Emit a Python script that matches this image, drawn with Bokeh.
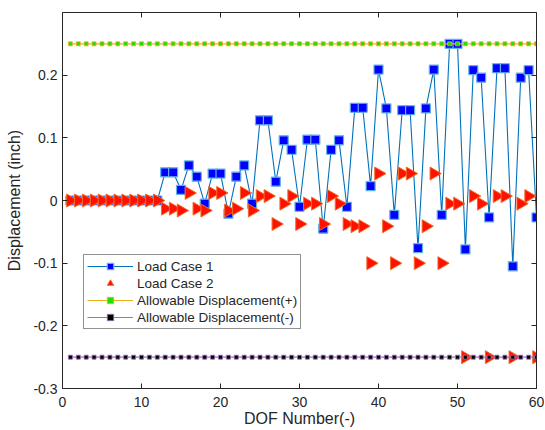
import math
from bokeh.plotting import figure
from bokeh.models import Range1d, LinearAxis, FixedTicker, CustomJSTickFormatter
from bokeh.embed import file_html
from bokeh.resources import INLINE

# ---- data ----
dof = list(range(1, 61))

load_case_1 = [0, 0, 0, 0, 0, 0, 0, 0, 0, 0, 0, 0,
               0.045, 0.045, 0.017, 0.056, 0.038, -0.005, 0.043, 0.043,
               -0.021, 0.038, 0.056, -0.005, 0.128, 0.128, 0.030, 0.096,
               0.081, -0.010, 0.097, 0.097, -0.045, 0.081, 0.096, -0.010,
               0.148, 0.148, 0.023, 0.209, 0.147, -0.023, 0.144, 0.144,
               -0.076, 0.147, 0.209, -0.023, 0.250, 0.250, -0.078, 0.208,
               0.196, -0.027, 0.211, 0.211, -0.105, 0.196, 0.208, -0.027]

load_case_2 = [0, 0, 0, 0, 0, 0, 0, 0, 0, 0, 0, 0,
               -0.013, -0.013, -0.016, 0.012, -0.013, -0.016, 0.012, 0.012,
               -0.016, -0.013, 0.012, -0.016, 0.007, 0.007, -0.0375, -0.005,
               0.007, -0.0375, -0.005, -0.005, -0.0375, 0.007, -0.005, -0.0375,
               -0.041, -0.041, -0.100, 0.043, -0.041, -0.100, 0.043, 0.043,
               -0.100, -0.041, 0.043, -0.100, -0.005, -0.005, -0.250, 0.007,
               -0.005, -0.250, 0.007, 0.007, -0.250, -0.005, 0.007, -0.250]

allow_pos = [0.25] * 60
allow_neg = [-0.25] * 60

x_ticks = [0, 10, 20, 30, 40, 50, 60]
y_ticks = [-0.3, -0.2, -0.1, 0, 0.1, 0.2]
y_tick_labels = {-0.3: "-0.3", -0.2: "-0.2", -0.1: "-0.1", 0: "0", 0.1: "0.1", 0.2: "0.2"}

FONT = "Liberation Sans"
AX = "#262626"

p = figure(width=544, height=429, output_backend="svg", toolbar_location=None,
           x_range=Range1d(0, 60), y_range=Range1d(-0.3, 0.3),
           min_border_left=62, min_border_top=12, min_border_right=8,
           min_border_bottom=10)
p.background_fill_color = "white"
p.border_fill_color = "white"
p.outline_line_color = None
p.xgrid.visible = False
p.ygrid.visible = False

# series
p.line(dof, load_case_1, line_color="#0072BD", line_width=1.1, legend_label="Load Case 1")
p.scatter(dof, load_case_1, marker="square", size=9, fill_color="#0000FF",
          line_color="#62B2EA", line_width=1.2, legend_label="Load Case 1")
p.scatter(dof, load_case_2, marker="triangle", size=13, angle=-math.pi / 2,
          fill_color="#FF1100", line_color="#F26A2A", line_width=1,
          legend_label="Load Case 2")
p.line(dof, allow_pos, line_color="#EDB120", line_width=1.2,
       legend_label="Allowable Displacement(+)")
p.scatter(dof, allow_pos, marker="square", size=4, fill_color="#22DD00",
          line_color="#EDB120", line_width=0.8, legend_label="Allowable Displacement(+)")
p.line(dof, allow_neg, line_color="#A070C0", line_width=1.2,
       legend_label="Allowable Displacement(-)")
p.scatter(dof, allow_neg, marker="square", size=4, fill_color="#000000",
          line_color="#A070C0", line_width=0.8, legend_label="Allowable Displacement(-)")

# main axes
xa = p.xaxis[0]
ya = p.yaxis[0]
xa.ticker = FixedTicker(ticks=x_ticks)
ya.ticker = FixedTicker(ticks=y_ticks)
ya.major_label_overrides = y_tick_labels
xa.axis_label = "DOF Number(-)"
ya.axis_label = "Displacement (inch)"
for ax in (xa, ya):
    ax.major_tick_in = 5
    ax.major_tick_out = 0
    ax.minor_tick_line_color = None
    ax.axis_line_color = AX
    ax.major_tick_line_color = AX
    ax.major_label_text_color = AX
    ax.major_label_text_font = FONT
    ax.major_label_text_font_size = "14px"
    ax.axis_label_text_font = FONT
    ax.axis_label_text_font_size = "16px"
    ax.axis_label_text_font_style = "normal"
    ax.axis_label_text_color = AX
xa.major_label_standoff = 8
ya.major_label_standoff = 5
xa.axis_label_standoff = 0
ya.axis_label_standoff = 7

# box axes (top / right) with ticks only
blank = CustomJSTickFormatter(code="return ''")
top = LinearAxis(ticker=FixedTicker(ticks=x_ticks), formatter=blank)
right = LinearAxis(ticker=FixedTicker(ticks=y_ticks), formatter=blank)
for ax in (top, right):
    ax.major_tick_in = 5
    ax.major_tick_out = 0
    ax.minor_tick_line_color = None
    ax.axis_line_color = AX
    ax.major_tick_line_color = AX
    ax.major_label_standoff = 0
p.add_layout(top, "above")
p.add_layout(right, "right")

# legend
lg = p.legend[0]
lg.location = (21, 59)
lg.label_text_font = FONT
lg.label_text_font_size = "13.5px"
lg.label_text_color = AX
lg.border_line_color = AX
lg.border_line_width = 1
lg.background_fill_color = "white"
lg.background_fill_alpha = 1
lg.glyph_width = 46
lg.glyph_height = 16
lg.label_height = 16
lg.label_standoff = 4
lg.spacing = 1
lg.padding = 3
lg.margin = 0

open("out.html", "w").write(file_html(p, INLINE))
